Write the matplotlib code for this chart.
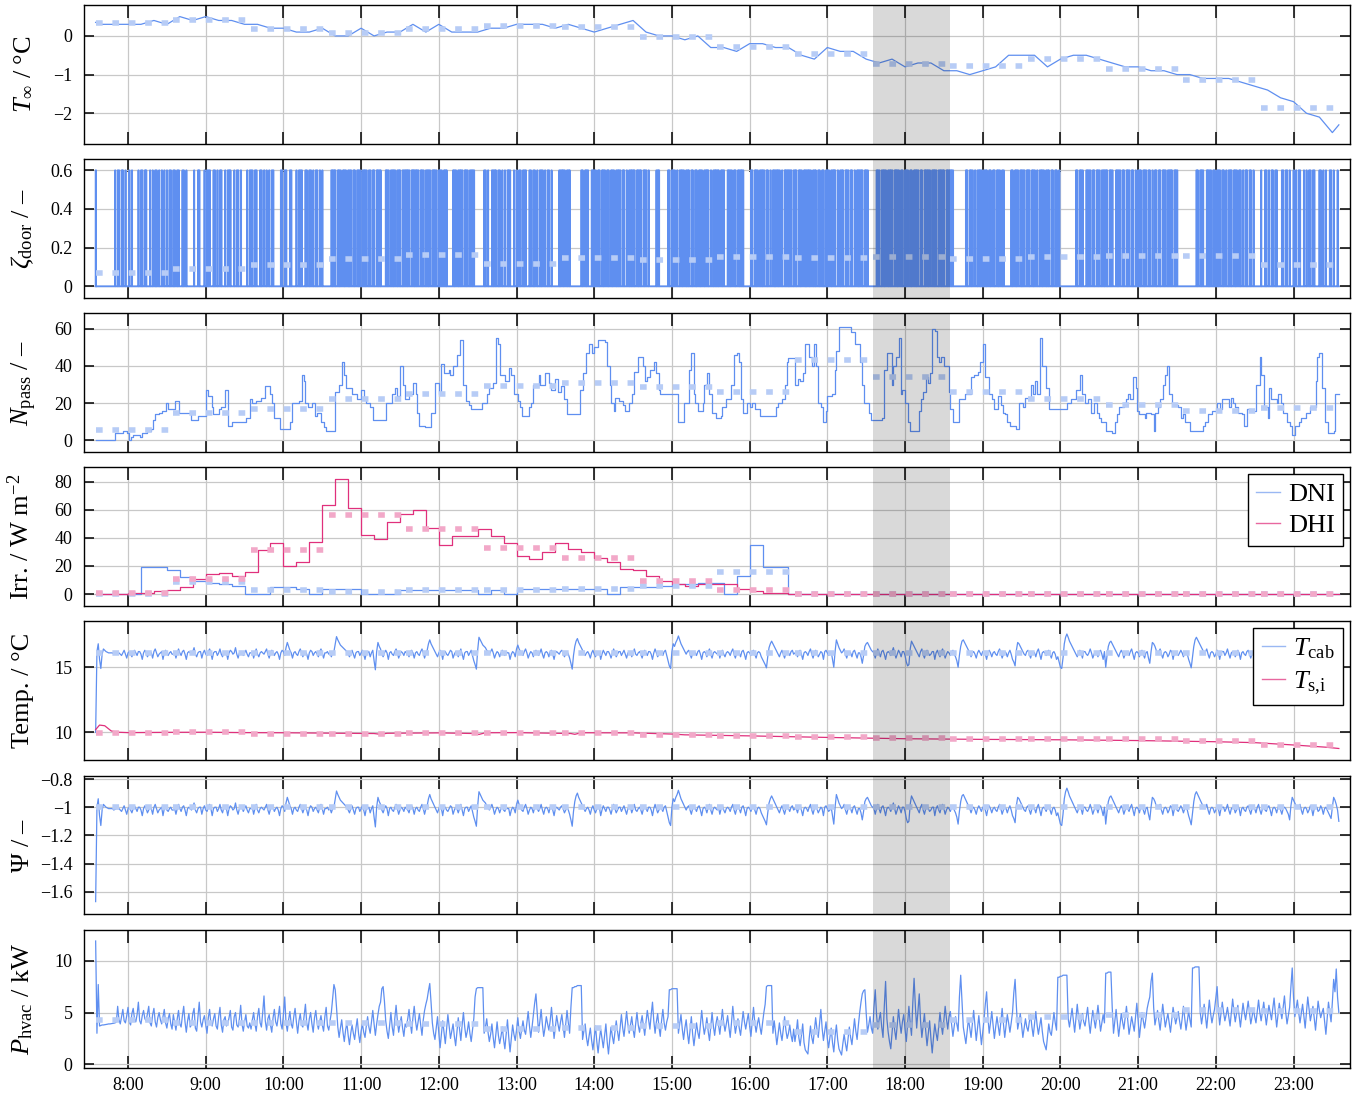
import numpy as np
import matplotlib
matplotlib.use("Agg")
import matplotlib.pyplot as plt
from matplotlib.lines import Line2D

plt.rcParams.update({
    "font.family": "Liberation Serif",
    "mathtext.fontset": "custom",
    "mathtext.rm": "Liberation Serif",
    "mathtext.it": "Liberation Serif:italic",
    "mathtext.bf": "Liberation Serif:bold",
    "axes.unicode_minus": True,
})

# All times are minutes after 07:00
HOUR_EDGES = [35, 95, 155, 215, 275, 335, 395, 455, 515, 575, 635, 695, 755, 815, 875, 935, 995]
BAND = (635, 695)
HOUR_TICKS = [8, 9, 10, 11, 12, 13, 14, 15, 16, 17, 18, 19, 20, 21, 22, 23]
HOUR_LABELS = ["8:00", "9:00", "10:00", "11:00", "12:00", "13:00", "14:00", "15:00",
               "16:00", "17:00", "18:00", "19:00", "20:00", "21:00", "22:00", "23:00"]

# ---- outdoor temperature (10-min samples) ----
T_INF_PTS = [(35, 0.35), (40, 0.3), (70, 0.3), (80, 0.4), (90, 0.3), (100, 0.5), (110, 0.4),
             (120, 0.5), (130, 0.4), (140, 0.4), (150, 0.3), (160, 0.3), (170, 0.2), (180, 0.2),
             (190, 0.1), (200, 0.1), (210, 0.2), (220, 0.0), (230, 0.0), (240, 0.2), (250, 0.0),
             (260, 0.1), (270, 0.1), (280, 0.3), (290, 0.1), (300, 0.3), (310, 0.1), (330, 0.1),
             (340, 0.2), (350, 0.2), (360, 0.3), (380, 0.3), (390, 0.2), (400, 0.3), (420, 0.1),
             (450, 0.4), (460, 0.1), (470, 0.0), (480, 0.0), (490, -0.1), (500, 0.0), (510, -0.3),
             (520, -0.3), (530, -0.4), (540, -0.2), (550, -0.2), (560, -0.3), (570, -0.3),
             (580, -0.5), (590, -0.6), (600, -0.3), (610, -0.4), (620, -0.4), (630, -0.6),
             (640, -0.7), (650, -0.6), (660, -0.8), (670, -0.7), (680, -0.7), (690, -0.9),
             (700, -0.9), (710, -1.0), (720, -0.9), (730, -0.8), (740, -0.5), (760, -0.5),
             (770, -0.8), (780, -0.6), (790, -0.5), (800, -0.5), (830, -0.8), (840, -0.8),
             (850, -0.9), (860, -0.9), (870, -1.0), (880, -1.0), (890, -1.1), (910, -1.1),
             (920, -1.2), (940, -1.4), (950, -1.6), (960, -1.7), (970, -2.0), (980, -2.1),
             (990, -2.5), (995, -2.3)]
T_INF_HOURLY = [0.33, 0.41, 0.17, 0.07, 0.17, 0.26, 0.24, -0.04, -0.29, -0.47, -0.73,
                -0.77, -0.59, -0.85, -1.14, -1.87]

# ---- door opening: one row per hour, one digit per minute (open time in 10 s units) ----
DOOR_ROWS = [
    "2" "00000000000000" "10110210100101" "0000" "101102100101011010201010110",
    "110120011010" "0000" "10021" "000" "101120011010210010121001011020" "000" "101",
    "1101200110201010120" "0000" "110120011" "000" "1011200110120101102010" "000",
    "00" "212102120212011202102120121201202102121" "000" "2120121201210112",
    "21202212120212012120221202120221" "0000" "21201212021201212" "0000000",
    "1101001121" "0110101021" "1001010110" "1120011011" "0101120101" "101" "00000" "11",
    "2120121" "00000000" "2102120021" "1202102120" "2102120121" "2021020121" "21021",
    "21021201" "00000" "121" "000000" "2102120201" "2120121021" "0210212012" "21020121",
    "2102120021" "1202102121" "1" "00000" "2102120121" "2021020211" "2120102121" "1201",
    "2102120211" "2120121021" "0210212012" "2102012102" "1202102021" "12102120" "00",
    "000" "2120121201" "2120221202" "1021202102" "2120210212" "1202212012" "1210212",
    "211" "000000000" "2102120201" "2120121021" "0210212012" "00000" "2102120211202",
    "2102120201" "2120121021" "02102" "000000000000" "2102120021" "1202102120" "121",
    "2102120021" "1202102120" "2102012102" "1202102021" "0210212012" "2102120" "000",
    "0000000000" "2102120021" "1202102120" "2102012102" "1202102021" "02102" "00000",
    "1001101021" "0110001101" "1010010101" "1001010110" "1100011010" "1001101001",
]
ZETA_OPEN = 0.6
ZETA_HOURLY = [0.069, 0.09, 0.109, 0.141, 0.164, 0.117, 0.147, 0.138, 0.15, 0.145, 0.15,
               0.14, 0.15, 0.155, 0.155, 0.11]

# ---- passengers on board (value holds until next change) ----
N_PASS_STEPS = [
    (35, 0), (50, 4), (56, 5), (59, 4), (61, 0), (62, 2), (64, 3), (69, 2), (71, 4), (75, 5),
    (78, 6), (79, 11), (81, 14), (84, 15), (86, 16), (89, 20), (91, 17), (96, 21), (99, 15),
    (109, 11), (114, 13), (120, 27), (122, 24), (125, 18), (126, 14), (130, 17), (132, 18),
    (135, 27), (137, 8), (140, 10), (151, 12), (154, 22), (156, 20), (159, 21), (163, 23),
    (166, 29), (170, 25), (171, 20), (173, 12), (177, 6), (185, 10), (187, 20), (192, 21),
    (194, 35), (196, 32), (197, 20), (199, 18), (202, 20), (204, 13), (206, 15), (209, 10),
    (211, 7), (213, 5), (220, 26), (223, 30), (225, 42), (227, 35), (228, 28), (233, 25),
    (237, 22), (240, 27), (242, 22), (244, 20), (247, 18), (249, 11), (259, 20), (264, 25),
    (266, 28), (268, 24), (270, 40), (272, 30), (274, 22), (277, 25), (280, 31), (282, 25),
    (283, 15), (285, 8), (289, 7), (294, 15), (297, 31), (300, 25), (302, 41), (304, 36),
    (308, 38), (309, 35), (311, 40), (314, 46), (316, 54), (319, 30), (321, 21), (323, 19),
    (325, 17), (333, 20), (337, 25), (339, 28), (342, 31), (344, 55), (346, 52), (347, 35),
    (351, 32), (354, 39), (356, 35), (358, 25), (361, 21), (363, 18), (364, 13), (370, 18),
    (371, 20), (373, 30), (377, 35), (378, 30), (382, 36), (385, 31), (387, 27), (390, 33),
    (392, 26), (394, 29), (397, 22), (399, 14), (409, 27), (411, 36), (414, 47), (416, 52),
    (418, 47), (420, 50), (423, 54), (428, 53), (430, 40), (432, 30), (433, 20), (435, 16),
    (436, 23), (439, 21), (442, 19), (444, 16), (447, 20), (449, 25), (451, 37), (454, 45),
    (458, 40), (459, 32), (461, 34), (463, 38), (466, 42), (468, 36), (470, 27), (471, 25),
    (482, 25), (485, 10), (489, 20), (493, 38), (495, 47), (497, 25), (498, 20), (500, 16),
    (504, 20), (505, 30), (507, 36), (509, 25), (511, 15), (514, 12), (518, 13), (519, 18),
    (522, 22), (526, 30), (528, 46), (530, 47), (532, 42), (533, 22), (535, 15), (538, 20),
    (540, 18), (542, 20), (544, 17), (548, 13), (560, 18), (562, 20), (565, 22), (567, 30),
    (569, 42), (570, 44), (575, 30), (577, 33), (579, 32), (581, 36), (583, 52), (586, 45),
    (588, 40), (590, 52), (591, 40), (593, 20), (595, 18), (597, 10), (599, 16), (600, 24),
    (604, 25), (606, 38), (607, 48), (609, 61), (618, 58), (621, 52), (625, 42), (627, 30),
    (628, 20), (632, 15), (634, 11), (642, 12), (644, 38), (646, 47), (650, 30), (651, 40),
    (653, 45), (655, 55), (657, 25), (658, 27), (660, 20), (662, 10), (664, 5), (671, 16),
    (672, 22), (674, 26), (676, 34), (678, 31), (679, 36), (681, 60), (683, 59), (685, 45),
    (686, 42), (688, 45), (690, 40), (694, 26), (695, 17), (697, 10), (702, 22), (706, 25),
    (711, 34), (713, 35), (716, 37), (718, 42), (720, 52), (722, 34), (725, 25), (727, 22),
    (729, 17), (732, 24), (734, 19), (736, 15), (737, 14), (739, 10), (741, 8), (746, 6),
    (748, 20), (751, 18), (753, 23), (755, 22), (757, 30), (759, 25), (760, 32), (762, 25),
    (764, 55), (766, 40), (769, 28), (771, 17), (785, 20), (788, 22), (792, 27), (795, 35),
    (797, 25), (799, 20), (801, 22), (804, 15), (806, 20), (808, 15), (810, 12), (811, 10),
    (815, 5), (820, 4), (822, 10), (824, 14), (825, 18), (829, 20), (831, 22), (832, 25),
    (834, 22), (836, 34), (838, 28), (839, 16), (841, 14), (845, 12), (846, 15), (850, 14),
    (852, 5), (853, 15), (855, 18), (857, 22), (859, 30), (861, 35), (862, 40), (864, 25),
    (866, 20), (868, 19), (871, 18), (873, 12), (875, 14), (876, 10), (880, 5), (890, 8),
    (892, 10), (894, 14), (897, 16), (901, 20), (903, 17), (905, 22), (910, 18), (912, 23),
    (913, 20), (915, 18), (917, 15), (920, 14), (922, 8), (924, 17), (927, 16), (931, 30),
    (934, 45), (935, 35), (937, 18), (940, 12), (941, 28), (943, 22), (947, 20), (948, 25),
    (950, 20), (952, 15), (955, 10), (957, 8), (959, 3), (961, 8), (964, 10), (966, 12),
    (970, 15), (973, 18), (977, 32), (978, 45), (980, 47), (982, 28), (984, 10), (987, 4),
    (991, 5), (992, 25), (995, 25)]
N_PASS_HOURLY = [5.7, 14.7, 17, 22, 25, 29, 31, 28.7, 26, 43, 34, 26, 22.4, 18.8, 16, 17.5]

# ---- irradiance, 10-min blocks: first block 07:35-07:40, then 07:40, 07:50, ... 23:30 ----
IRR_EDGES = [35] + list(range(40, 991, 10)) + [995]
DNI = [0, 0, 0, 0, 19, 19, 17, 12, 9, 8, 7, 6, 0, 0, 5, 5, 4, 0, 3.5, 3.5, 3.5, 0, 0, 0,
       3, 3, 3, 3, 3, 3, 0, 3, 0, 3.5, 3.5, 3.5, 4, 4, 4, 4, 0, 5, 5, 5, 6, 7, 7, 8, 8, 0,
       13, 35, 19, 19,
       0, 0, 0, 0, 0, 0, 0, 0, 0, 0, 0, 0, 0, 0, 0, 0, 0, 0, 0, 0, 0, 0,
       0, 0, 0, 0, 0, 0, 0, 0, 0, 0, 0, 0, 0, 0, 0, 0, 0, 0, 0, 0, 0]
DHI = [0, 0, 0, 0.7, 1, 2, 3, 5, 11, 14, 15, 13, 16, 31, 36, 20, 23, 37, 63, 82, 61, 42,
       39, 51, 57, 60, 47, 35, 41, 41, 46, 41, 36, 27, 25, 30, 36, 32, 30, 26, 23, 18, 17,
       13, 9, 7, 6, 7, 7, 7, 4, 2, 1, 1,
       0, 0, 0, 0, 0, 0, 0, 0, 0, 0, 0, 0, 0, 0, 0, 0, 0, 0, 0, 0, 0, 0,
       0, 0, 0, 0, 0, 0, 0, 0, 0, 0, 0, 0, 0, 0, 0, 0, 0, 0, 0, 0, 0]
DNI_HOURLY = [0, 8.4, 2.6, 1.7, 3.0, 2.6, 3.5, 6.0, 16, 0, 0, 0, 0, 0, 0, 0]
DHI_HOURLY = [0.9, 11, 31, 56, 46, 33, 26, 9, 3, 0, 0, 0, 0, 0, 0, 0]

# ---- cabin air, comfort index and HVAC power: 1-min samples from 07:35, one row per hour ----
T_CAB = """
10.0 16.2 16.8 15.6 14.9 16.0 16.4 16.3 16.2 16.15 16.1 16.1 16.1 16.1 16.0 16.05 16.1 16.1 16.1 16.0 15.9 16.1 16.3 16.0 15.7 16.1 16.2 16.0 15.8 16.1 16.3 16.1 15.9 16.2 16.2 16.0 15.6 16.1 16.3 16.1 15.8 16.0 16.2 16.1 15.7 16.2 16.4 16.1 15.8 16.0 16.1 16.2 15.6 16.1 16.3 16.0 15.9 16.1 16.2 16.0
16.0 16.1 15.7 16.1 16.4 16.1 15.9 16.2 16.3 16.0 15.6 16.1 16.2 16.1 16.0 16.2 16.5 16.0 15.8 16.1 16.2 16.2 15.7 16.1 16.3 16.0 15.9 16.2 16.4 16.1 15.6 16.1 16.2 16.2 15.9 16.1 16.4 16.0 15.8 16.2 16.1 16.1 15.6 16.1 16.3 16.2 16.0 16.1 16.5 16.0 15.7 16.1 16.2 16.2 15.9 16.1 16.3 16.0 15.8 16.1
16.1 16.2 15.7 16.1 16.4 16.0 15.8 16.1 16.2 16.1 16.0 16.2 16.4 16.0 15.7 16.1 16.3 16.2 15.9 16.1 16.2 16.0 15.6 16.1 16.3 16.2 15.9 16.5 16.9 16.6 16.3 16.1 15.7 16.1 16.2 16.0 15.9 16.2 16.4 16.1 15.8 16.1 16.2 16.0 15.6 16.1 16.3 16.2 15.9 16.1 16.2 16.0 15.8 16.2 16.4 16.1 15.7 16.1 16.1 16.2
16.0 16.1 15.8 16.1 16.2 16.8 17.35 17.1 16.9 16.7 16.6 16.5 16.4 16.3 16.2 16.0 15.8 16.1 16.3 16.0 15.7 16.1 16.2 16.2 15.9 16.1 16.3 16.0 15.6 16.1 16.1 16.2 15.8 16.1 16.3 15.5 14.8 16.2 16.9 16.6 16.4 16.0 15.8 16.1 16.3 16.1 15.6 16.1 16.2 16.0 15.9 16.2 16.4 16.1 15.7 16.0 16.2 16.1 15.9 16.2
16.1 16.0 15.8 16.2 16.3 16.1 15.7 16.1 16.2 16.0 15.9 16.2 16.4 16.1 15.7 16.1 16.3 16.8 17.1 16.8 16.6 16.4 16.2 16.0 15.8 16.1 16.3 16.1 15.6 16.2 16.2 16.0 15.9 16.1 16.3 16.2 15.7 16.0 16.2 16.1 15.8 16.1 16.4 16.0 15.6 16.1 16.2 16.2 15.9 16.1 16.3 15.9 15.5 15.2 14.85 16.3 17.3 17.1 16.9 16.7
16.6 16.5 16.3 16.2 16.0 16.2 16.4 16.1 15.7 16.0 16.2 16.1 15.8 16.1 16.3 16.0 15.9 16.2 16.1 16.1 15.6 16.0 16.2 16.1 15.8 16.4 16.7 16.4 16.2 16.0 15.9 16.2 16.4 16.1 15.7 16.0 16.2 16.1 15.8 16.2 16.3 16.1 15.9 16.1 16.4 16.0 15.7 16.1 16.2 16.1 15.8 16.2 16.3 16.0 15.6 16.1 16.2 16.1 16.0 16.2
16.3 16.1 15.8 16.0 16.2 16.0 15.7 15.3 14.85 15.9 16.6 17.0 17.2 16.9 16.7 16.5 16.3 16.1 15.9 16.1 16.2 16.0 15.7 16.1 16.3 16.0 15.8 16.1 16.1 16.2 15.6 16.0 16.3 16.1 15.9 16.2 16.2 16.0 15.7 16.1 16.4 16.1 15.8 16.0 16.2 16.2 15.9 16.1 16.3 16.0 15.7 16.1 16.1 16.2 15.8 16.1 16.4 16.0 15.9 16.1
16.2 16.0 15.7 16.1 16.3 16.1 15.9 16.2 16.2 16.0 15.6 16.1 16.4 16.1 15.8 16.0 16.2 16.1 15.9 16.2 16.3 15.9 15.5 15.1 14.9 16.2 16.8 16.6 16.9 17.1 17.4 17.1 16.8 16.6 16.4 16.2 16.0 16.2 16.3 16.0 15.7 16.1 16.2 16.1 15.9 16.2 16.3 16.0 15.6 16.1 16.2 16.1 15.8 16.2 16.4 16.0 15.7 16.1 16.2 16.1
16.0 16.2 15.7 16.1 16.3 16.0 15.8 16.1 16.2 16.1 15.9 16.2 16.4 16.0 15.7 16.1 16.2 16.1 15.8 16.2 16.3 16.0 15.6 16.1 16.2 16.1 15.9 16.2 16.3 16.0 15.7 16.1 16.2 16.1 15.8 15.6 15.4 15.2 14.95 15.8 16.5 16.8 17.0 16.8 16.6 16.4 16.2 16.0 15.8 16.1 16.3 16.0 15.7 16.1 16.2 16.1 15.9 16.2 16.3 16.0
16.1 16.1 15.8 16.2 16.3 16.0 15.6 16.1 16.2 16.1 15.9 16.2 16.4 16.0 15.7 16.1 16.3 16.1 15.8 16.0 16.2 16.1 15.6 16.2 16.3 16.1 15.9 16.0 16.2 15.6 15.0 16.2 17.1 16.8 16.5 16.3 16.1 16.2 16.4 16.0 15.7 16.1 16.2 16.1 15.8 16.2 16.3 16.0 15.7 16.1 16.1 15.8 15.3 15.9 16.6 16.8 16.9 16.7 16.5 16.3
16.2 16.1 15.7 16.1 16.4 16.1 15.8 16.2 16.3 16.0 15.6 16.1 16.2 16.1 15.9 16.2 16.5 16.1 15.7 16.0 16.3 16.1 15.8 16.2 16.2 15.9 15.4 15.1 15.2 16.4 17.0 16.8 16.6 16.4 16.2 16.0 15.8 16.2 16.4 16.0 15.7 16.1 16.3 16.1 15.9 16.0 16.2 16.2 15.6 16.1 16.3 16.0 15.8 16.2 16.4 16.1 15.7 16.0 16.2 16.1
15.9 16.2 16.3 16.0 15.8 15.5 15.0 15.9 16.6 17.0 17.1 16.9 16.7 16.5 16.3 16.1 15.8 16.1 16.2 16.0 15.7 16.1 16.3 16.1 15.9 16.2 16.2 16.0 15.6 16.1 16.3 16.1 15.8 16.1 16.2 16.0 15.9 16.2 16.4 16.1 15.7 16.0 16.2 16.1 15.8 16.1 16.3 16.0 15.6 15.4 15.1 16.3 16.9 16.8 16.6 16.4 16.2 16.0 15.9 16.2
16.3 16.0 15.7 16.1 16.2 16.1 15.8 16.2 16.4 16.0 15.6 16.1 16.2 16.1 15.9 16.2 16.3 16.0 15.7 16.1 16.2 16.0 15.6 15.8 15.4 15.0 14.9 15.7 16.8 17.3 17.55 17.3 17.0 16.8 16.6 16.4 16.2 16.0 15.8 16.1 16.3 16.1 15.7 16.2 16.2 16.0 15.9 16.1 16.4 16.1 15.7 16.0 16.2 16.1 15.8 16.2 16.3 16.0 15.6 16.2
15.0 15.9 16.6 16.9 17.0 16.8 16.6 16.4 16.2 16.0 15.8 16.1 16.3 16.1 15.7 16.0 16.2 16.1 15.9 16.2 16.4 16.0 15.6 16.1 16.2 16.1 15.8 16.2 16.3 16.0 15.7 16.1 16.2 15.7 15.3 16.2 16.9 16.8 16.6 16.3 16.1 16.2 16.4 16.0 15.7 16.1 16.2 16.1 15.8 16.0 16.3 16.2 15.6 16.1 16.2 16.0 15.9 16.1 16.3 16.1
15.8 16.1 16.2 16.0 15.6 15.3 14.95 15.8 16.6 17.1 17.3 17.1 16.9 16.7 16.5 16.3 16.1 16.2 16.4 16.0 15.7 16.1 16.2 16.1 15.8 16.0 16.3 16.1 15.6 16.1 16.2 16.2 15.9 16.1 16.4 16.0 15.7 16.1 16.2 16.2 15.8 16.0 16.3 16.1 15.6 16.1 16.2 16.0 15.9 16.2 16.3 16.0 15.7 16.1 16.2 16.1 15.8 16.2 16.4 16.0
15.7 16.1 16.2 16.0 15.9 16.2 16.3 16.0 15.6 16.1 16.2 16.1 15.8 16.2 16.3 16.0 15.7 16.1 16.2 16.1 15.9 15.7 15.3 16.3 16.9 16.7 16.5 16.3 16.1 16.2 16.4 16.0 15.7 16.1 16.2 16.1 15.8 16.0 16.3 16.1 15.6 16.1 16.2 16.2 15.9 16.0 16.3 16.1 15.7 16.1 16.2 16.0 15.8 15.6 15.4 16.2 16.9 16.7 16.4 16.0
15.3
"""
PSI = """
-1.67 -1.0 -0.94 -1.06 -1.13 -1.02 -0.98 -0.99 -1.0 -1.005 -1.01 -1.01 -1.01 -1.01 -1.02 -1.015 -1.01 -1.01 -1.01 -1.02 -1.03 -1.01 -0.99 -1.02 -1.05 -1.01 -1.0 -1.02 -1.04 -1.01 -0.99 -1.01 -1.03 -1.0 -1.0 -1.02 -1.06 -1.01 -0.99 -1.01 -1.04 -1.02 -1.0 -1.01 -1.05 -1.0 -0.98 -1.01 -1.04 -1.02 -1.01 -1.0 -1.06 -1.01 -0.99 -1.02 -1.03 -1.01 -1.0 -1.02
-1.02 -1.01 -1.05 -1.01 -0.98 -1.01 -1.03 -1.0 -0.99 -1.02 -1.06 -1.01 -1.0 -1.01 -1.02 -1.0 -0.97 -1.02 -1.04 -1.01 -1.0 -1.0 -1.05 -1.01 -0.99 -1.02 -1.03 -1.0 -0.98 -1.01 -1.06 -1.01 -1.0 -1.0 -1.03 -1.01 -0.98 -1.02 -1.04 -1.0 -1.01 -1.01 -1.06 -1.01 -0.99 -1.0 -1.02 -1.01 -0.97 -1.02 -1.05 -1.01 -1.0 -1.0 -1.03 -1.01 -0.99 -1.02 -1.04 -1.01
-1.01 -1.0 -1.05 -1.01 -0.98 -1.02 -1.04 -1.01 -1.0 -1.01 -1.02 -1.0 -0.98 -1.02 -1.05 -1.01 -0.99 -1.0 -1.03 -1.01 -1.0 -1.02 -1.06 -1.01 -0.99 -1.0 -1.03 -0.97 -0.93 -0.96 -0.99 -1.01 -1.05 -1.01 -1.0 -1.02 -1.03 -1.0 -0.98 -1.01 -1.04 -1.01 -1.0 -1.02 -1.06 -1.01 -0.99 -1.0 -1.03 -1.01 -1.0 -1.02 -1.04 -1.0 -0.98 -1.01 -1.05 -1.01 -1.01 -1.0
-1.02 -1.01 -1.04 -1.01 -1.0 -0.94 -0.885 -0.91 -0.93 -0.95 -0.96 -0.97 -0.98 -0.99 -1.0 -1.02 -1.04 -1.01 -0.99 -1.02 -1.05 -1.01 -1.0 -1.0 -1.03 -1.01 -0.99 -1.02 -1.06 -1.01 -1.01 -1.0 -1.04 -1.01 -0.99 -1.07 -1.14 -1.0 -0.93 -0.96 -0.98 -1.02 -1.04 -1.01 -0.99 -1.01 -1.06 -1.01 -1.0 -1.02 -1.03 -1.0 -0.98 -1.01 -1.05 -1.02 -1.0 -1.01 -1.03 -1.0
-1.01 -1.02 -1.04 -1.0 -0.99 -1.01 -1.05 -1.01 -1.0 -1.02 -1.03 -1.0 -0.98 -1.01 -1.05 -1.01 -0.99 -0.94 -0.91 -0.94 -0.96 -0.98 -1.0 -1.02 -1.04 -1.01 -0.99 -1.01 -1.06 -1.0 -1.0 -1.02 -1.03 -1.01 -0.99 -1.0 -1.05 -1.02 -1.0 -1.01 -1.04 -1.01 -0.98 -1.02 -1.06 -1.01 -1.0 -1.0 -1.03 -1.01 -0.99 -1.03 -1.07 -1.1 -1.135 -0.99 -0.89 -0.91 -0.93 -0.95
-0.96 -0.97 -0.99 -1.0 -1.02 -1.0 -0.98 -1.01 -1.05 -1.02 -1.0 -1.01 -1.04 -1.01 -0.99 -1.02 -1.03 -1.0 -1.01 -1.01 -1.06 -1.02 -1.0 -1.01 -1.04 -0.98 -0.95 -0.98 -1.0 -1.02 -1.03 -1.0 -0.98 -1.01 -1.05 -1.02 -1.0 -1.01 -1.04 -1.0 -0.99 -1.01 -1.03 -1.01 -0.98 -1.02 -1.05 -1.01 -1.0 -1.01 -1.04 -1.0 -0.99 -1.02 -1.06 -1.01 -1.0 -1.01 -1.02 -1.0
-0.99 -1.01 -1.04 -1.02 -1.0 -1.02 -1.05 -1.09 -1.135 -1.03 -0.96 -0.92 -0.9 -0.93 -0.95 -0.97 -0.99 -1.01 -1.03 -1.01 -1.0 -1.02 -1.05 -1.01 -0.99 -1.02 -1.04 -1.01 -1.01 -1.0 -1.06 -1.02 -0.99 -1.01 -1.03 -1.0 -1.0 -1.02 -1.05 -1.01 -0.98 -1.01 -1.04 -1.02 -1.0 -1.0 -1.03 -1.01 -0.99 -1.02 -1.05 -1.01 -1.01 -1.0 -1.04 -1.01 -0.98 -1.02 -1.03 -1.01
-1.0 -1.02 -1.05 -1.01 -0.99 -1.01 -1.03 -1.0 -1.0 -1.02 -1.06 -1.01 -0.98 -1.01 -1.04 -1.02 -1.0 -1.01 -1.03 -1.0 -0.99 -1.03 -1.07 -1.11 -1.13 -1.0 -0.94 -0.96 -0.93 -0.91 -0.88 -0.91 -0.94 -0.96 -0.98 -1.0 -1.02 -1.0 -0.99 -1.02 -1.05 -1.01 -1.0 -1.01 -1.03 -1.0 -0.99 -1.02 -1.06 -1.01 -1.0 -1.01 -1.04 -1.0 -0.98 -1.02 -1.05 -1.01 -1.0 -1.01
-1.02 -1.0 -1.05 -1.01 -0.99 -1.02 -1.04 -1.01 -1.0 -1.01 -1.03 -1.0 -0.98 -1.02 -1.05 -1.01 -1.0 -1.01 -1.04 -1.0 -0.99 -1.02 -1.06 -1.01 -1.0 -1.01 -1.03 -1.0 -0.99 -1.02 -1.05 -1.01 -1.0 -1.01 -1.04 -1.06 -1.08 -1.1 -1.125 -1.04 -0.97 -0.94 -0.92 -0.94 -0.96 -0.98 -1.0 -1.02 -1.04 -1.01 -0.99 -1.02 -1.05 -1.01 -1.0 -1.01 -1.03 -1.0 -0.99 -1.02
-1.01 -1.01 -1.04 -1.0 -0.99 -1.02 -1.06 -1.01 -1.0 -1.01 -1.03 -1.0 -0.98 -1.02 -1.05 -1.01 -0.99 -1.01 -1.04 -1.02 -1.0 -1.01 -1.06 -1.0 -0.99 -1.01 -1.03 -1.02 -1.0 -1.06 -1.12 -1.0 -0.91 -0.94 -0.97 -0.99 -1.01 -1.0 -0.98 -1.02 -1.05 -1.01 -1.0 -1.01 -1.04 -1.0 -0.99 -1.02 -1.05 -1.01 -1.01 -1.04 -1.09 -1.03 -0.96 -0.94 -0.93 -0.95 -0.97 -0.99
-1.0 -1.01 -1.05 -1.01 -0.98 -1.01 -1.04 -1.0 -0.99 -1.02 -1.06 -1.01 -1.0 -1.01 -1.03 -1.0 -0.97 -1.01 -1.05 -1.02 -0.99 -1.01 -1.04 -1.0 -1.0 -1.03 -1.08 -1.11 -1.1 -0.98 -0.92 -0.94 -0.96 -0.98 -1.0 -1.02 -1.04 -1.0 -0.98 -1.02 -1.05 -1.01 -0.99 -1.01 -1.03 -1.02 -1.0 -1.0 -1.06 -1.01 -0.99 -1.02 -1.04 -1.0 -0.98 -1.01 -1.05 -1.02 -1.0 -1.01
-1.03 -1.0 -0.99 -1.02 -1.04 -1.07 -1.12 -1.03 -0.96 -0.92 -0.91 -0.93 -0.95 -0.97 -0.99 -1.01 -1.04 -1.01 -1.0 -1.02 -1.05 -1.01 -0.99 -1.01 -1.03 -1.0 -1.0 -1.02 -1.06 -1.01 -0.99 -1.01 -1.04 -1.01 -1.0 -1.02 -1.03 -1.0 -0.98 -1.01 -1.05 -1.02 -1.0 -1.01 -1.04 -1.01 -0.99 -1.02 -1.06 -1.08 -1.11 -0.99 -0.93 -0.94 -0.96 -0.98 -1.0 -1.02 -1.03 -1.0
-0.99 -1.02 -1.05 -1.01 -1.0 -1.01 -1.04 -1.0 -0.98 -1.02 -1.06 -1.01 -1.0 -1.01 -1.03 -1.0 -0.99 -1.02 -1.05 -1.01 -1.0 -1.02 -1.06 -1.04 -1.08 -1.12 -1.13 -1.05 -0.94 -0.89 -0.865 -0.89 -0.92 -0.94 -0.96 -0.98 -1.0 -1.02 -1.04 -1.01 -0.99 -1.01 -1.05 -1.0 -1.0 -1.02 -1.03 -1.01 -0.98 -1.01 -1.05 -1.02 -1.0 -1.01 -1.04 -1.0 -0.99 -1.02 -1.06 -1.0
-1.12 -1.03 -0.96 -0.93 -0.92 -0.94 -0.96 -0.98 -1.0 -1.02 -1.04 -1.01 -0.99 -1.01 -1.05 -1.02 -1.0 -1.01 -1.03 -1.0 -0.98 -1.02 -1.06 -1.01 -1.0 -1.01 -1.04 -1.0 -0.99 -1.02 -1.05 -1.01 -1.0 -1.05 -1.09 -1.0 -0.93 -0.94 -0.96 -0.99 -1.01 -1.0 -0.98 -1.02 -1.05 -1.01 -1.0 -1.01 -1.04 -1.02 -0.99 -1.0 -1.06 -1.01 -1.0 -1.02 -1.03 -1.01 -0.99 -1.01
-1.04 -1.01 -1.0 -1.02 -1.06 -1.09 -1.125 -1.04 -0.96 -0.91 -0.89 -0.91 -0.93 -0.95 -0.97 -0.99 -1.01 -1.0 -0.98 -1.02 -1.05 -1.01 -1.0 -1.01 -1.04 -1.02 -0.99 -1.01 -1.06 -1.01 -1.0 -1.0 -1.03 -1.01 -0.98 -1.02 -1.05 -1.01 -1.0 -1.0 -1.04 -1.02 -0.99 -1.01 -1.06 -1.01 -1.0 -1.02 -1.03 -1.0 -0.99 -1.02 -1.05 -1.01 -1.0 -1.01 -1.04 -1.0 -0.98 -1.02
-1.05 -1.01 -1.0 -1.02 -1.03 -1.0 -0.99 -1.02 -1.06 -1.01 -1.0 -1.01 -1.04 -1.0 -0.99 -1.02 -1.05 -1.01 -1.0 -1.01 -1.03 -1.05 -1.09 -0.99 -0.93 -0.95 -0.97 -0.99 -1.01 -1.0 -0.98 -1.02 -1.05 -1.01 -1.0 -1.01 -1.04 -1.02 -0.99 -1.01 -1.06 -1.01 -1.0 -1.0 -1.03 -1.02 -0.99 -1.01 -1.05 -1.01 -1.0 -1.02 -1.04 -1.06 -1.08 -1.0 -0.93 -0.95 -0.98 -1.02
-1.1
"""
P_HVAC = """
11.9 3.0 7.7 3.7 3.75 3.8 3.8 3.82 3.85 3.87 3.9 3.9 3.92 3.95 3.97 4.0 4.1 5.6 4.3 3.9 4.6 5.3 4.2 4.0 4.7 5.5 4.1 3.8 4.9 5.4 4.4 4.1 4.8 6.0 4.2 3.9 4.7 5.2 4.4 4.2 4.9 5.6 4.0 3.7 4.8 5.4 4.1 3.6 4.5 5.0 4.3 3.9 4.6 5.3 4.0 3.5 4.4 4.9 3.9 3.4
4.8 4.0 3.3 4.4 5.2 3.9 3.6 4.7 5.6 4.1 3.1 4.2 4.9 3.6 3.8 4.9 5.4 3.5 3.2 4.6 6.0 4.1 3.6 4.3 4.7 3.8 3.0 4.5 5.3 3.9 3.7 4.4 4.9 3.7 3.4 4.6 5.5 3.8 3.1 4.3 4.6 3.7 3.9 4.5 5.2 3.6 3.3 4.6 5.0 3.8 3.6 4.4 5.7 3.9 3.2 4.1 4.8 3.7 3.5 4.0
3.4 4.3 5.0 3.9 3.2 4.6 5.4 4.0 3.6 5.0 6.6 4.2 3.3 4.4 4.8 3.8 3.1 4.5 5.3 4.1 3.7 4.6 5.6 3.9 3.4 4.8 6.5 4.0 3.2 4.3 5.1 3.9 3.5 4.6 5.4 4.1 3.0 4.2 4.9 3.8 3.6 4.7 5.8 4.0 3.3 4.4 5.0 3.9 3.1 4.5 5.2 4.0 3.4 4.1 4.7 3.8 3.2 4.6 5.5 3.7
3.3 4.2 5.0 6.4 7.7 7.2 5.5 3.6 2.6 3.5 4.3 3.1 2.2 3.3 4.0 2.8 1.9 3.0 3.8 3.0 2.4 3.5 4.4 3.0 2.1 3.2 3.9 3.1 2.6 3.7 4.6 3.6 3.0 4.1 5.2 3.9 2.8 3.9 4.8 5.6 6.0 7.3 7.5 6.1 4.2 3.2 2.5 3.8 5.0 3.6 2.8 4.4 5.7 4.2 3.1 3.9 4.6 3.5 2.7 3.9
3.6 4.4 5.3 4.0 3.0 4.5 5.6 4.2 3.3 4.1 4.9 3.8 2.8 4.3 5.2 5.8 6.3 7.1 7.8 6.0 4.0 3.0 2.4 3.5 4.6 3.0 1.6 2.9 4.2 3.1 2.0 3.4 4.8 3.6 2.5 3.2 3.9 2.7 1.8 3.1 4.5 3.4 2.3 3.8 5.0 3.6 2.6 3.2 4.1 3.0 2.2 3.3 4.4 6.5 7.3 7.4 7.4 7.4 7.4 7.4
3.0 3.6 4.4 3.1 2.2 2.9 3.9 2.6 1.6 2.9 4.1 2.8 2.0 2.7 3.6 2.4 1.5 2.9 4.3 2.6 1.2 2.5 3.8 2.9 2.3 3.3 4.5 3.2 2.5 3.4 4.2 3.3 2.9 4.0 5.1 3.7 2.6 3.6 4.8 5.9 6.8 5.0 3.1 4.1 5.3 3.8 2.7 3.5 4.6 3.9 3.3 4.2 5.5 4.0 2.5 3.6 4.7 3.9 3.2 4.1
4.8 3.7 2.6 3.9 5.2 4.0 3.0 5.5 7.4 7.4 7.5 7.5 7.6 7.6 7.6 7.6 2.4 3.2 3.9 2.6 1.8 2.7 3.5 2.3 1.4 2.6 3.7 2.2 1.1 2.4 3.4 2.5 1.6 2.8 3.9 2.2 1.0 2.4 3.6 2.7 2.0 3.1 4.2 3.2 2.3 3.6 4.8 3.5 2.7 3.9 5.1 3.9 3.0 3.8 4.6 3.4 2.6 3.9 5.0 3.8
3.1 4.0 4.7 3.7 2.8 4.1 5.2 4.3 3.4 4.8 6.0 4.2 3.0 4.1 4.9 3.6 2.7 4.2 5.3 4.0 3.3 4.1 4.6 7.2 7.2 7.3 7.3 7.3 7.3 7.3 3.0 3.9 4.8 3.4 2.4 3.5 4.3 3.0 2.0 3.3 4.6 2.9 1.8 2.9 4.0 3.1 2.5 3.8 5.2 3.9 2.9 3.6 4.5 3.2 2.3 3.6 5.0 3.7 2.8 3.9
4.6 3.8 2.9 4.1 5.3 4.0 3.2 3.9 4.7 3.6 2.6 4.0 5.6 4.2 3.0 3.8 4.4 3.5 2.8 4.0 5.1 4.1 3.4 4.2 4.9 3.7 2.7 4.1 5.5 4.0 3.1 3.9 4.5 3.6 2.9 4.0 5.0 5.8 7.5 7.6 7.6 7.6 7.6 3.0 4.2 3.1 1.9 2.9 4.0 3.0 2.3 3.4 4.6 3.3 2.5 3.0 3.8 2.8 2.2 3.4
2.2 3.1 4.3 2.6 1.8 2.8 3.9 2.1 1.4 1.2 1.0 2.5 3.7 2.6 2.0 3.3 4.5 3.4 2.6 4.0 5.3 3.5 2.3 3.2 4.1 2.5 1.6 2.6 3.5 2.1 1.2 2.7 3.8 2.4 1.5 1.2 0.9 2.0 2.9 2.0 1.3 2.5 3.6 2.6 1.9 3.1 4.4 3.2 2.4 3.8 5.0 6.0 6.8 7.1 7.2 5.0 3.1 3.8 4.6 3.5
3.0 5.5 7.2 4.8 3.4 4.3 5.0 3.6 2.6 5.6 8.0 4.4 3.1 2.2 1.5 3.1 4.6 3.3 2.4 3.8 5.3 4.0 3.0 4.1 4.8 3.4 2.2 3.9 5.6 4.0 2.8 5.9 8.3 5.6 3.5 5.1 6.8 4.2 2.6 3.8 4.9 3.2 1.8 3.0 4.2 2.5 1.1 2.6 3.9 3.0 2.3 3.7 5.0 3.8 2.9 4.3 5.6 4.4 3.4 4.6
5.1 3.8 2.7 3.7 4.6 3.9 3.2 6.5 8.6 6.0 3.6 2.8 2.0 3.2 4.4 3.5 2.6 3.9 5.2 3.7 2.3 3.5 4.7 3.3 1.9 3.1 4.3 5.8 7.0 4.6 3.0 4.0 5.1 3.8 2.5 3.6 4.6 3.7 2.8 4.1 5.4 3.9 2.6 3.7 4.8 4.0 3.1 4.0 5.0 6.9 8.2 5.6 3.4 4.1 4.9 3.8 2.6 3.5 4.4 3.6
3.2 4.1 4.8 3.6 2.7 3.9 5.1 3.8 2.9 3.7 4.5 3.2 2.2 1.8 1.4 2.6 3.9 3.1 2.8 3.9 5.0 4.0 3.3 8.4 8.4 8.5 8.5 8.6 8.6 8.6 8.6 4.4 3.6 4.5 5.4 4.2 3.1 4.4 5.8 4.5 3.4 4.2 4.9 4.1 3.7 4.6 5.5 4.1 3.0 4.2 5.2 4.3 3.5 4.6 5.7 4.4 3.2 4.0 4.8 4.0
8.8 8.8 8.9 8.9 8.9 5.5 3.0 4.2 5.3 4.0 2.7 3.8 4.9 4.1 3.4 4.5 5.6 4.2 2.9 3.7 4.6 3.9 3.2 4.6 5.9 4.3 2.6 3.8 5.0 4.2 3.5 4.4 5.4 6.0 6.5 8.0 8.8 5.5 3.8 4.5 5.2 4.2 3.3 4.6 5.8 4.7 3.6 4.3 4.9 4.0 3.1 4.3 5.5 4.7 3.9 4.5 5.1 4.2 3.4 4.4
5.6 4.4 3.3 4.2 5.1 4.3 3.6 9.3 9.3 9.4 9.4 9.4 9.4 5.0 3.9 4.8 5.8 4.6 3.5 4.9 6.2 4.9 4.0 4.7 5.3 6.4 7.5 5.2 3.8 4.9 6.0 5.0 4.2 4.8 5.5 4.6 3.7 5.0 6.3 5.1 4.1 4.9 5.7 4.7 3.6 4.8 5.9 5.0 4.3 5.2 6.1 5.0 3.9 4.6 5.4 4.6 4.0 5.1 6.2 5.0
4.2 5.1 6.0 4.9 3.8 4.8 5.7 5.0 4.3 5.4 6.4 4.9 3.6 4.8 5.9 5.1 4.4 5.5 6.6 5.0 3.9 4.7 5.5 7.5 9.3 6.5 4.6 5.4 6.2 5.0 4.0 4.9 5.8 4.6 3.5 5.0 6.5 5.3 4.2 4.9 5.6 4.4 3.3 4.7 6.1 5.2 4.5 5.0 5.4 4.1 2.9 4.5 6.0 5.0 4.1 6.0 8.2 7.0 9.2 6.5
5.0
"""
T_CAB_HOURLY = [16.1, 16.1, 16.1, 16.1, 16.1, 16.1, 16.1, 16.1, 16.1, 16.1, 16.1, 16.1,
                16.1, 16.1, 16.1, 16.1]
PSI_HOURLY = [-1.0, -1.0, -1.0, -1.0, -1.0, -1.0, -1.0, -1.0, -1.0, -1.0, -1.0, -1.0,
              -1.0, -1.0, -1.0, -1.0]
P_HVAC_HOURLY = [4.3, 3.95, 3.95, 3.95, 3.9, 3.4, 3.5, 3.7, 4.0, 3.15, 3.8, 4.3, 4.6,
                 4.8, 5.2, 5.1]

# ---- inner surface temperature ----
T_SI_PTS = [(35, 10.2), (38, 10.55), (42, 10.5), (47, 10.1), (52, 10.0), (60, 9.97),
            (90, 9.99), (120, 10.0), (150, 9.97), (180, 9.96), (225, 9.92), (250, 9.9),
            (255, 9.84), (260, 9.92), (300, 9.95), (328, 9.9), (331, 9.83), (336, 9.96),
            (360, 9.97), (402, 9.9), (405, 9.84), (410, 9.96), (450, 9.95), (480, 9.86),
            (490, 9.8), (540, 9.72), (600, 9.6), (660, 9.5), (720, 9.45), (780, 9.42),
            (840, 9.36), (900, 9.27), (930, 9.2), (960, 9.02), (985, 8.85), (995, 8.75)]
T_SI_HOURLY = [9.92, 10.0, 9.88, 9.88, 9.92, 9.92, 9.96, 9.82, 9.7, 9.6, 9.55, 9.5, 9.5,
               9.45, 9.35, 9.0]

# ---------------------------------------------------------------------------
BLUE = "#5f8ff0"
BLUE_MEAN = "#b7ccf6"
PINK = "#e0307c"
PINK_MEAN = "#f2a8c8"
BLUE_LEG = "#9ab8f3"
PINK_LEG = "#e8679f"


def hrs(m):
    return 7.0 + np.asarray(m, dtype=float) / 60.0


def minute_series(text):
    vals = np.array(text.split(), dtype=float)
    return hrs(35 + np.arange(len(vals))), vals


def hourly(ax, means, color):
    for k, v in enumerate(means):
        ax.plot(hrs([HOUR_EDGES[k], HOUR_EDGES[k + 1]]), [v, v], color=color, lw=4.0,
                ls=(0, (1.2, 1.75)), dash_capstyle="butt", solid_capstyle="butt", zorder=3)


def style(ax, ylim, yticks, ylabels, ylabel):
    ax.set_xlim(7.427, 23.727)
    ax.set_ylim(*ylim)
    ax.set_xticks(HOUR_TICKS)
    ax.set_xticklabels(HOUR_LABELS)
    ax.set_yticks(yticks)
    ax.set_yticklabels(ylabels)
    ax.grid(True, color="#c8c8c8", lw=0.9)
    ax.set_axisbelow(True)
    ax.tick_params(axis="x", direction="in", top=True, bottom=True, length=9, width=1.1,
                   labelbottom=False, labelsize=13, pad=6, colors="k")
    ax.tick_params(axis="y", direction="in", left=True, right=True, length=7, width=1.1,
                   labelsize=13, pad=8)
    for s in ax.spines.values():
        s.set_linewidth(1.0)
    ax.set_ylabel(ylabel, fontsize=19, va="baseline")
    ax.yaxis.set_label_coords(-0.043, 0.5)
    ax.axvspan(hrs(BAND[0]), hrs(BAND[1]), color="k", alpha=0.15, lw=0, zorder=4)


def add_legend(ax, colors, labels):
    handles = [Line2D([], [], color=c, lw=1.0) for c in colors]
    leg = ax.legend(handles, labels, loc="upper right", fontsize=19, frameon=True,
                    fancybox=False, edgecolor="k", framealpha=1.0, borderpad=0.32,
                    labelspacing=0.3, handlelength=0.9, handletextpad=0.3,
                    borderaxespad=0.25)
    leg.get_frame().set_linewidth(1.0)
    leg.set_zorder(6)


W, H = 1364.0, 1097.0
LEFT, RIGHT = 83.5, 1350.0
PANEL_H = 138.8
fig = plt.figure(figsize=(W / 100, H / 100), dpi=100)
axes = []
for k in range(7):
    top = 5.0 + 154.1 * k
    axes.append(fig.add_axes([LEFT / W, 1 - (top + PANEL_H) / H, (RIGHT - LEFT) / W, PANEL_H / H]))

# 1: outdoor temperature
ax = axes[0]
tm, tv = zip(*T_INF_PTS)
ax.plot(hrs(tm), tv, color=BLUE, lw=0.9, zorder=2)
hourly(ax, T_INF_HOURLY, BLUE_MEAN)
style(ax, (-2.79, 0.80), [-2, -1, 0], ["\u22122", "\u22121", "0"], r"$T_\infty$ / °C")

# 2: door opening
ax = axes[1]
zx, zy = [35.0], [0.0]
for h, row in enumerate(DOOR_ROWS):
    for j, c in enumerate(row):
        d = int(c)
        if d:
            m = HOUR_EDGES[h] + j
            zx += [m, m, m + d / 6.0, m + d / 6.0]
            zy += [0, ZETA_OPEN, ZETA_OPEN, 0]
zx.append(995.0)
zy.append(0.0)
ax.plot(hrs(zx), zy, color=BLUE, lw=1.3, zorder=2)
hourly(ax, ZETA_HOURLY, BLUE_MEAN)
style(ax, (-0.06, 0.658), [0, 0.2, 0.4, 0.6], ["0", "0.2", "0.4", "0.6"],
      r"$\zeta_\mathrm{door}$ / –")

# 3: passengers
ax = axes[2]
nm, nv = zip(*N_PASS_STEPS)
ax.plot(hrs(nm), nv, color=BLUE, lw=0.9, drawstyle="steps-post", zorder=2)
hourly(ax, N_PASS_HOURLY, BLUE_MEAN)
style(ax, (-6.2, 68.3), [0, 20, 40, 60], ["0", "20", "40", "60"], r"$N_\mathrm{pass}$ / –")

# 4: irradiance
ax = axes[3]
ax.plot(hrs(IRR_EDGES), DNI + [DNI[-1]], color=BLUE, lw=0.9, drawstyle="steps-post", zorder=2)
ax.plot(hrs(IRR_EDGES), DHI + [DHI[-1]], color=PINK, lw=0.9, drawstyle="steps-post", zorder=2)
hourly(ax, DNI_HOURLY, BLUE_MEAN)
hourly(ax, DHI_HOURLY, PINK_MEAN)
style(ax, (-8.5, 90.1), [0, 20, 40, 60, 80], ["0", "20", "40", "60", "80"],
      r"Irr. / W m$^{-2}$")
add_legend(ax, [BLUE_LEG, PINK_LEG], ["DNI", "DHI"])

# 5: temperatures
ax = axes[4]
ax.plot(*minute_series(T_CAB), color=BLUE, lw=0.9, zorder=2)
sm, sv = zip(*T_SI_PTS)
ax.plot(hrs(sm), sv, color=PINK, lw=0.9, zorder=2)
hourly(ax, T_CAB_HOURLY, BLUE_MEAN)
hourly(ax, T_SI_HOURLY, PINK_MEAN)
style(ax, (7.85, 18.52), [10, 15], ["10", "15"], "Temp. / °C")
add_legend(ax, [BLUE_LEG, PINK_LEG], [r"$T_\mathrm{cab}$", r"$T_\mathrm{s{,}i}$"])

# 6: comfort index
ax = axes[5]
ax.plot(*minute_series(PSI), color=BLUE, lw=0.9, zorder=2)
hourly(ax, PSI_HOURLY, BLUE_MEAN)
style(ax, (-1.76, -0.775), [-1.6, -1.4, -1.2, -1.0, -0.8],
      ["\u22121.6", "\u22121.4", "\u22121.2", "\u22121", "\u22120.8"], r"$\Psi$ / –")

# 7: HVAC power
ax = axes[6]
ax.plot(*minute_series(P_HVAC), color=BLUE, lw=0.9, zorder=2)
hourly(ax, P_HVAC_HOURLY, BLUE_MEAN)
style(ax, (-0.39, 13.0), [0, 5, 10], ["0", "5", "10"], r"$P_\mathrm{hvac}$ / kW")
ax.tick_params(axis="x", labelbottom=True)

fig.savefig("out.png", dpi=100)
